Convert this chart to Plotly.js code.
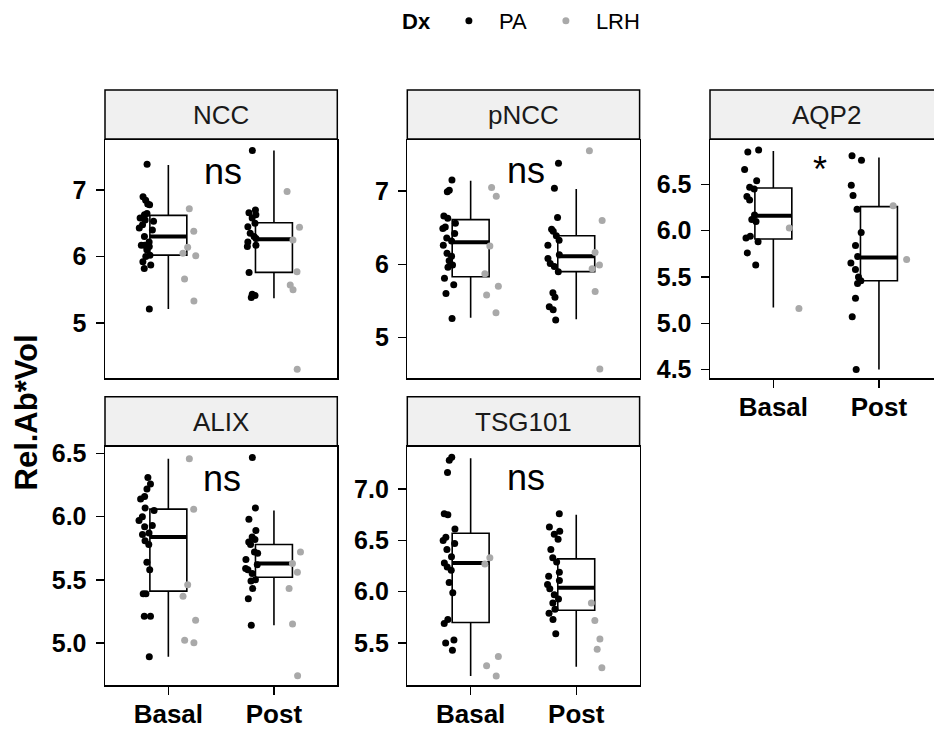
<!DOCTYPE html>
<html><head><meta charset="utf-8">
<script src="https://cdn.plot.ly/plotly-3.0.1.min.js"></script>
<style>html,body{margin:0;padding:0;background:#fff}#chart{width:934px;height:730px}</style>
</head><body><div id="chart"></div>
<script>
const categories = ['Basal', 'Post'];
const panels = ['NCC', 'pNCC', 'AQP2', 'ALIX', 'TSG101'];
const groups = ['PA', 'LRH'];
const sigLabels = ['ns', 'ns', '*', 'ns', 'ns'];

// NCC
const nccBasalPA = [7.39, 6.90, 6.85, 6.79, 6.78, 6.65, 6.63, 6.58, 6.55, 6.53, 6.48, 6.43, 6.40, 6.30, 6.22, 6.17, 6.15, 6.17, 6.10, 6.02, 6.00, 5.92, 5.87, 5.82, 5.21];
const nccPostPA = [7.60, 6.70, 6.66, 6.63, 6.58, 6.50, 6.45, 6.35, 6.30, 6.27, 6.22, 6.17, 6.15, 5.76, 5.43, 5.41, 5.38];
const nccBasalLRH = [6.72, 6.38, 6.14, 6.05, 6.01, 5.66, 5.33];
const nccPostLRH = [6.98, 6.44, 6.25, 5.77, 5.57, 5.50, 4.30];
const nccLower = [5.21, 5.37], nccQ1 = [6.02, 5.76], nccMedian = [6.30, 6.26], nccQ3 = [6.62, 6.51], nccUpper = [7.38, 7.60];

// pNCC
const pnccBasalPA = [7.15, 7.01, 6.99, 6.66, 6.63, 6.56, 6.51, 6.49, 6.42, 6.36, 6.32, 6.26, 6.15, 6.11, 6.05, 5.99, 5.96, 5.81, 5.72, 5.60, 5.26];
const pnccPostPA = [7.38, 7.04, 6.64, 6.48, 6.45, 6.39, 6.33, 6.26, 6.13, 6.08, 6.01, 5.97, 5.90, 5.61, 5.55, 5.42, 5.38, 5.24];
const pnccBasalLRH = [7.05, 6.93, 6.25, 5.87, 5.70, 5.58, 5.34];
const pnccPostLRH = [7.55, 6.60, 6.16, 5.99, 5.94, 5.63, 4.57];
const pnccLower = [5.27, 5.25], pnccQ1 = [5.83, 5.90], pnccMedian = [6.30, 6.11], pnccQ3 = [6.61, 6.39], pnccUpper = [7.14, 7.03];

// AQP2
const aqp2BasalPA = [6.87, 6.85, 6.66, 6.54, 6.47, 6.45, 6.37, 6.33, 6.17, 6.12, 6.10, 5.94, 5.92, 5.88, 5.76, 5.63];
const aqp2PostPA = [6.81, 6.76, 6.49, 6.38, 6.23, 5.98, 5.84, 5.72, 5.65, 5.58, 5.50, 5.46, 5.43, 5.27, 5.07, 4.50];
const aqp2BasalLRH = [6.03, 5.16];
const aqp2PostLRH = [6.27, 5.69];
const aqp2Lower = [5.17, 4.50], aqp2Q1 = [5.91, 5.46], aqp2Median = [6.16, 5.71], aqp2Q3 = [6.46, 6.26], aqp2Upper = [6.86, 6.79];

// ALIX
const alixBasalPA = [6.31, 6.26, 6.22, 6.16, 6.14, 6.07, 6.05, 6.00, 5.97, 5.93, 5.92, 5.87, 5.86, 5.81, 5.78, 5.64, 5.58, 5.39, 5.39, 5.21, 5.21, 4.89];
const alixPostPA = [6.47, 6.07, 5.98, 5.89, 5.84, 5.82, 5.80, 5.78, 5.72, 5.71, 5.66, 5.62, 5.59, 5.58, 5.55, 5.50, 5.49, 5.43, 5.35, 5.14];
const alixBasalLRH = [6.46, 6.06, 5.46, 5.37, 5.18, 5.02, 5.00];
const alixPostLRH = [5.72, 5.63, 5.56, 5.43, 5.15, 4.74];
const alixLower = [4.89, 5.14], alixQ1 = [5.41, 5.52], alixMedian = [5.84, 5.63], alixQ3 = [6.06, 5.78], alixUpper = [6.46, 6.05];

// TSG101
const tsgBasalPA = [7.31, 7.28, 7.16, 6.76, 6.75, 6.61, 6.53, 6.50, 6.47, 6.41, 6.34, 6.28, 6.24, 6.21, 6.09, 5.99, 5.73, 5.69, 5.53, 5.50, 5.43];
const tsgPostPA = [6.76, 6.63, 6.59, 6.56, 6.51, 6.41, 6.33, 6.29, 6.19, 6.15, 6.11, 6.07, 6.03, 5.97, 5.93, 5.89, 5.83, 5.79, 5.73, 5.59];
const tsgBasalLRH = [6.33, 6.27, 5.37, 5.28, 5.18];
const tsgPostLRH = [5.89, 5.72, 5.54, 5.44, 5.26];
const tsgLower = [5.18, 5.27], tsgQ1 = [5.70, 5.82], tsgMedian = [6.28, 6.04], tsgQ3 = [6.57, 6.32], tsgUpper = [7.30, 6.75];

const panelData = [
  {basal: {PA: nccBasalPA, LRH: nccBasalLRH}, post: {PA: nccPostPA, LRH: nccPostLRH}, lower: nccLower, q1: nccQ1, median: nccMedian, q3: nccQ3, upper: nccUpper},
  {basal: {PA: pnccBasalPA, LRH: pnccBasalLRH}, post: {PA: pnccPostPA, LRH: pnccPostLRH}, lower: pnccLower, q1: pnccQ1, median: pnccMedian, q3: pnccQ3, upper: pnccUpper},
  {basal: {PA: aqp2BasalPA, LRH: aqp2BasalLRH}, post: {PA: aqp2PostPA, LRH: aqp2PostLRH}, lower: aqp2Lower, q1: aqp2Q1, median: aqp2Median, q3: aqp2Q3, upper: aqp2Upper},
  {basal: {PA: alixBasalPA, LRH: alixBasalLRH}, post: {PA: alixPostPA, LRH: alixPostLRH}, lower: alixLower, q1: alixQ1, median: alixMedian, q3: alixQ3, upper: alixUpper},
  {basal: {PA: tsgBasalPA, LRH: tsgBasalLRH}, post: {PA: tsgPostPA, LRH: tsgPostLRH}, lower: tsgLower, q1: tsgQ1, median: tsgMedian, q3: tsgQ3, upper: tsgUpper}
];

// ---- styling / layout ----
const FONT = 'Liberation Sans, Arial, Helvetica, sans-serif';
const groupColor = {PA: '#000000', LRH: '#a9a9a9'};
const legendEntryWidth = {PA: 32, LRH: 0};
const BOXW = 0.35;
const LW = 1.5;
const W = 934, H = 730;
const colPx = [[105, 337.3], [407.3, 639.6], [710, 942.3]];
const rowPx = [[140, 378.3], [446.7, 685]];
const slot = [[0, 0], [0, 1], [0, 2], [1, 0], [1, 1]];
const yRanges = [[4.163, 7.757], [4.443, 7.698], [4.406, 6.979], [4.666, 6.555], [5.092, 7.412]];
const yDtick = [1, 1, 0.5, 0.5, 0.5];
const showX = [false, false, true, true, true];
const sigPos = [[0.515, 7.285], [0.52, 7.277], [0.44, 6.66], [0.51, 6.306], [0.52, 7.11]];
const STRIP = 50;

const data = [];
const layout = {
  width: W, height: H,
  margin: {l: 0, r: 0, t: 0, b: 0},
  paper_bgcolor: 'white', plot_bgcolor: 'white',
  showlegend: true, hovermode: false, boxmode: 'overlay',
  font: {family: FONT, color: 'black'},
  legend: {
    orientation: 'h', x: 400 / W, xanchor: 'left', y: 1.0, yanchor: 'top',
    title: {text: '<b>Dx</b>', font: {size: 22, family: FONT, color: 'black'}},
    font: {size: 22, family: FONT, color: 'black'},
    itemwidth: 50,
    bgcolor: 'rgba(0,0,0,0)', borderwidth: 0, itemclick: false, itemdoubleclick: false
  },
  shapes: [], annotations: []
};

panelData.forEach((p, i) => {
  const n = i + 1;
  const xs = n === 1 ? '' : String(n);
  const xref = 'x' + xs, yref = 'y' + xs;
  const [r, c] = slot[i];
  const cx = colPx[c], ry = rowPx[r];
  const x0 = cx[0] / W, x1 = Math.min(cx[1], W) / W;
  const unitPx = (colPx[0][1] - colPx[0][0]) / 2.2;
  const xr0 = -0.6, xr1 = -0.6 + (Math.min(cx[1], W) - cx[0]) / unitPx;
  const yDom = [1 - ry[1] / H, 1 - ry[0] / H];
  const panelH = ry[1] - ry[0];

  layout['xaxis' + xs] = {
    domain: [x0, x1], anchor: yref, range: [xr0, xr1],
    showline: true, linecolor: 'black', linewidth: LW, mirror: true,
    showgrid: false, zeroline: false,
    ticks: showX[i] ? 'outside' : '', ticklen: 8, tickwidth: LW, tickcolor: 'black',
    tickvals: categories.map((_, k) => k), ticktext: categories,
    showticklabels: showX[i],
    tickfont: {family: FONT, size: 26, color: 'black', weight: 'bold'},
    ticklabelstandoff: -3,
    fixedrange: true
  };
  layout['yaxis' + xs] = {
    domain: yDom, anchor: xref, range: yRanges[i],
    showline: true, linecolor: 'black', linewidth: LW, mirror: i !== 2,
    showgrid: false, zeroline: false,
    ticks: 'outside', ticklen: 8, tickwidth: LW, tickcolor: 'black',
    dtick: yDtick[i], tick0: 0, tickformat: yDtick[i] < 1 ? '.1f' : 'd',
    tickfont: {family: FONT, size: 25, color: 'black', weight: 'bold'},
    ticklabelstandoff: 4,
    fixedrange: true
  };

  // box with quartiles
  data.push({
    type: 'box', xaxis: xref, yaxis: yref,
    x: categories.map((_, k) => k),
    q1: p.q1, median: p.median, q3: p.q3, lowerfence: p.lower, upperfence: p.upper,
    width: BOXW, whiskerwidth: 0, boxpoints: false,
    fillcolor: 'white', line: {color: 'black', width: 1.6},
    showlegend: false, hoverinfo: 'skip'
  });
  // thick median bar
  data.push({
    type: 'box', xaxis: xref, yaxis: yref,
    x: categories.map((_, k) => k),
    q1: p.median, median: p.median, q3: p.median, lowerfence: p.median, upperfence: p.median,
    width: BOXW, whiskerwidth: 0, boxpoints: false,
    fillcolor: 'rgba(0,0,0,0)', line: {color: 'black', width: 4},
    showlegend: false, hoverinfo: 'skip'
  });
  // jittered points per Dx
  groups.forEach((g) => {
    const b = p.basal[g], q = p.post[g];
    data.push({
      type: 'box', xaxis: xref, yaxis: yref,
      x: b.map(() => 0).concat(q.map(() => 1)),
      y: b.concat(q),
      width: BOXW, boxpoints: 'all', jitter: 0.45,
      pointpos: g === 'PA' ? -1.15 : 1.15,
      fillcolor: 'rgba(0,0,0,0)', line: {color: 'rgba(0,0,0,0)', width: 0},
      marker: {color: groupColor[g], size: 7, line: {width: 0}},
      showlegend: false, hoverinfo: 'skip', name: g
    });
  });

  // strip
  const stripTop = 1 + STRIP / panelH;
  const fullW = (cx[1] - cx[0]) / (Math.min(cx[1], W) - cx[0]);
  layout.shapes.push({
    type: 'rect', xref: xref + ' domain', yref: yref + ' domain',
    x0: 0, x1: fullW,
    y0: 1 + 1 / panelH, y1: stripTop,
    fillcolor: '#f0f0f0', line: {color: 'black', width: LW}, layer: 'above'
  });
  layout.annotations.push({
    xref: xref + ' domain', yref: yref + ' domain',
    x: 0.5 * fullW, y: 1 + STRIP / 2 / panelH,
    xanchor: 'center', yanchor: 'middle', showarrow: false,
    text: panels[i], font: {family: FONT, size: 26, color: '#1a1a1a'}
  });
  // significance label
  layout.annotations.push({
    xref: xref, yref: yref, x: sigPos[i][0], y: sigPos[i][1],
    xanchor: 'center', yanchor: 'middle', showarrow: false,
    text: sigLabels[i], font: {family: FONT, size: 36, color: 'black'}
  });
});

// legend entries
groups.forEach((g) => {
  data.push({
    type: 'scatter', mode: 'markers', x: [null], y: [null], name: g,
    legendwidth: legendEntryWidth[g],
    marker: {color: groupColor[g], size: 7}, showlegend: true, hoverinfo: 'skip'
  });
});

// y-axis title
layout.annotations.push({
  xref: 'paper', yref: 'paper', x: 26 / W, y: 1 - 412.5 / H,
  xanchor: 'center', yanchor: 'middle', textangle: -90, showarrow: false,
  text: '<b>Rel.Ab*Vol</b>', font: {family: FONT, size: 31, color: 'black'}
});

Plotly.newPlot('chart', data, layout, {staticPlot: true, displayModeBar: false});
</script></body></html>
